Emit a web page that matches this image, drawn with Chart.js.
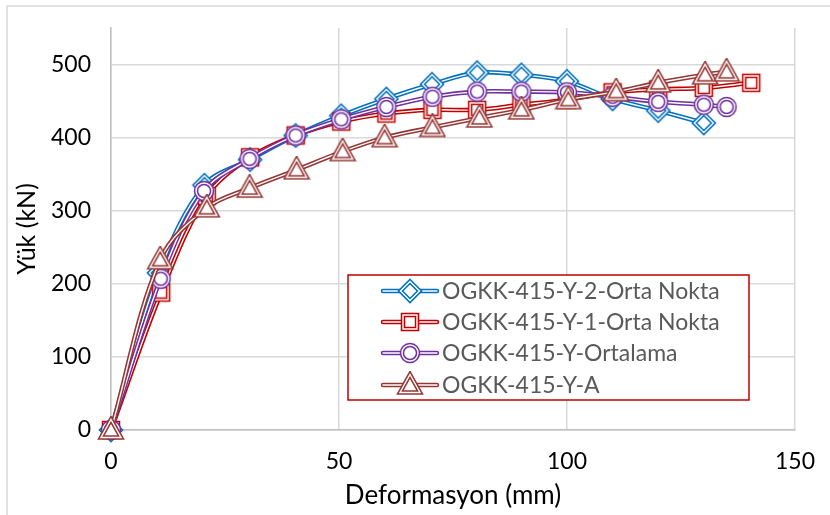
<!DOCTYPE html>
<html lang="tr">
<head>
  <meta charset="UTF-8" />
  <title>Yük - Deformasyon</title>
  <script src="https://cdn.jsdelivr.net/npm/chart.js"></script>
  <style>
    body { margin: 0; background: #fff; }
    #wrap { width: 830px; height: 515px; position: relative; }
  </style>
</head>
<body>
<div id="wrap"><canvas id="chart" width="830" height="515"></canvas></div>

<script>
  // series names
  const seriesNames = ['OGKK-415-Y-2-Orta Nokta', 'OGKK-415-Y-1-Orta Nokta', 'OGKK-415-Y-Ortalama', 'OGKK-415-Y-A'];

  // OGKK-415-Y-2-Orta Nokta
  const xY2 = [0, 10.5, 20.5, 30.5, 40.5, 50.5, 60.4, 70.4, 80.3, 90, 100, 110, 120, 130];
  const yY2 = [0, 215, 335, 370, 403, 430, 453, 473, 489, 486, 477, 453, 437, 420];
  // OGKK-415-Y-1-Orta Nokta
  const xY1 = [0, 11, 21, 30.5, 40.5, 50.5, 60.4, 70.5, 80.3, 90, 100, 110, 120, 130, 140.4];
  const yY1 = [0, 188, 320, 373, 403, 422, 433, 438, 438, 445, 452, 462, 466, 468, 475];
  // OGKK-415-Y-Ortalama
  const xOrt = [0, 10.9, 20.4, 30.4, 40.5, 50.5, 60.4, 70.5, 80.3, 90, 100, 110, 120, 130, 135];
  const yOrt = [0, 207, 327, 371, 403, 425, 442, 456, 463, 463, 462, 456, 449, 445, 442];
  // OGKK-415-Y-A
  const xA = [0, 10.8, 21, 30.4, 40.7, 50.8, 60, 70.5, 80.8, 90, 100.3, 110.8, 120, 130.3, 135];
  const yA = [0, 233, 304, 331, 356, 381, 400, 414, 427, 438, 452, 463, 475, 486, 490];

  // axis ticks
  const xTicks = [0, 50, 100, 150];
  const yTicks = [0, 100, 200, 300, 400, 500];

  const colors = ['#0070C0', '#C00000', '#7030A0', '#953735'];
  const shapes = ['diamond', 'square', 'circle', 'triangle'];

  function toPoints(xs, ys) {
    return xs.map((x, i) => ({ x: x, y: ys[i] }));
  }

  // marker with a double border (coloured / white / coloured), like the excel compound line
  function makeMarker(shape, color) {
    const c = document.createElement('canvas');
    const s = 28;
    c.width = s; c.height = s;
    const g = c.getContext('2d');
    const m = s / 2;
    g.beginPath();
    if (shape === 'diamond') {
      const r = 9.5;
      g.moveTo(m, m - r); g.lineTo(m + r, m); g.lineTo(m, m + r); g.lineTo(m - r, m); g.closePath();
    } else if (shape === 'square') {
      const r = 7;
      g.rect(m - r, m - r, 2 * r, 2 * r);
    } else if (shape === 'circle') {
      g.arc(m, m, 8, 0, Math.PI * 2);
    } else {
      g.moveTo(m, m - 10.5); g.lineTo(m + 10, m + 7.5); g.lineTo(m - 10, m + 7.5); g.closePath();
    }
    g.lineJoin = 'miter';
    g.fillStyle = '#fff';
    g.fill();
    g.strokeStyle = color;
    g.lineWidth = 4.5;
    g.stroke();
    g.strokeStyle = '#fff';
    g.lineWidth = 1.4;
    g.stroke();
    return c;
  }

  const markers = shapes.map((s, i) => makeMarker(s, colors[i]));
  const seriesData = [toPoints(xY2, yY2), toPoints(xY1, yY1), toPoints(xOrt, yOrt), toPoints(xA, yA)];

  // each series: thick coloured line, thin white core, then the markers
  const datasets = [];
  seriesData.forEach((pts, i) => {
    const base = (3 - i) * 3;
    datasets.push({ label: seriesNames[i], data: pts, borderColor: colors[i], borderWidth: 4.5,
      pointRadius: 0, tension: 0.35, clip: 6, order: base + 3 });
    datasets.push({ label: '', data: pts, borderColor: '#fff', borderWidth: 1.4,
      pointRadius: 0, tension: 0.35, clip: 6, order: base + 2 });
    datasets.push({ label: '', data: pts, showLine: false, pointStyle: markers[i],
      clip: false, order: base + 1 });
  });

  const frame = {
    id: 'frame',
    beforeDraw(chart) {
      const ctx = chart.ctx;
      ctx.save();
      ctx.fillStyle = '#fff';
      ctx.fillRect(0, 0, chart.width, chart.height);
      ctx.strokeStyle = '#d9d9d9';
      ctx.lineWidth = 1.5;
      ctx.strokeRect(7, 6, chart.width + 10, chart.height + 10);
      ctx.restore();
    }
  };

  const boxLegend = {
    id: 'boxLegend',
    afterDraw(chart) {
      const ctx = chart.ctx;
      ctx.save();
      ctx.fillStyle = '#fff';
      ctx.fillRect(348, 275, 401, 125);
      ctx.strokeStyle = '#C00000';
      ctx.lineWidth = 1.5;
      ctx.strokeRect(348, 275, 401, 125);
      const rows = [291, 322, 353, 385];
      ctx.font = '23px Lato, "Open Sans", sans-serif';
      ctx.textBaseline = 'middle';
      rows.forEach((y, i) => {
        ctx.lineCap = 'round';
        ctx.beginPath(); ctx.moveTo(383, y); ctx.lineTo(437, y);
        ctx.strokeStyle = colors[i]; ctx.lineWidth = 4.5; ctx.stroke();
        ctx.strokeStyle = '#fff'; ctx.lineWidth = 1.4; ctx.stroke();
        const mk = markers[i];
        ctx.drawImage(mk, 410 - mk.width / 2, y - mk.height / 2);
        ctx.fillStyle = '#595959';
        ctx.fillText(seriesNames[i], 442, y + 1);
      });
      ctx.restore();
    }
  };

  new Chart(document.getElementById('chart'), {
    type: 'line',
    data: { datasets },
    plugins: [frame, boxLegend],
    options: {
      responsive: false,
      animation: false,
      layout: { padding: { left: 8, top: 28, right: 35, bottom: 0 } },
      plugins: { legend: { display: false }, tooltip: { enabled: false } },
      scales: {
        x: {
          type: 'linear', min: 0, max: 150,
          afterBuildTicks(axis) { axis.ticks = xTicks.map(v => ({ value: v })); },
          afterFit(axis) { axis.height = 85; axis.paddingLeft = 0; axis.paddingRight = 0; },
          grid: { color: '#d9d9d9', lineWidth: 1.5, drawTicks: false },
          border: { color: '#bfbfbf', width: 1.5 },
          ticks: { color: '#000', padding: 18, font: { family: 'Lato', size: 23 } },
          title: { display: true, text: 'Deformasyon (mm)', color: '#000', padding: { top: 2 },
            font: { family: 'Lato', size: 26 } }
        },
        y: {
          min: 0, max: 550,
          afterBuildTicks(axis) { axis.ticks = yTicks.map(v => ({ value: v })); },
          afterFit(axis) { axis.width = 103; axis.paddingTop = 0; axis.paddingBottom = 0; },
          grid: { color: '#d9d9d9', lineWidth: 1.5, drawTicks: false },
          border: { color: '#bfbfbf', width: 1.5 },
          ticks: { color: '#000', padding: 20, font: { family: 'Lato', size: 23 } },
          title: { display: true, text: 'Yük (kN)', color: '#000', padding: { bottom: 0 },
            font: { family: 'Lato', size: 25 } }
        }
      }
    }
  });
</script>
</body>
</html>
